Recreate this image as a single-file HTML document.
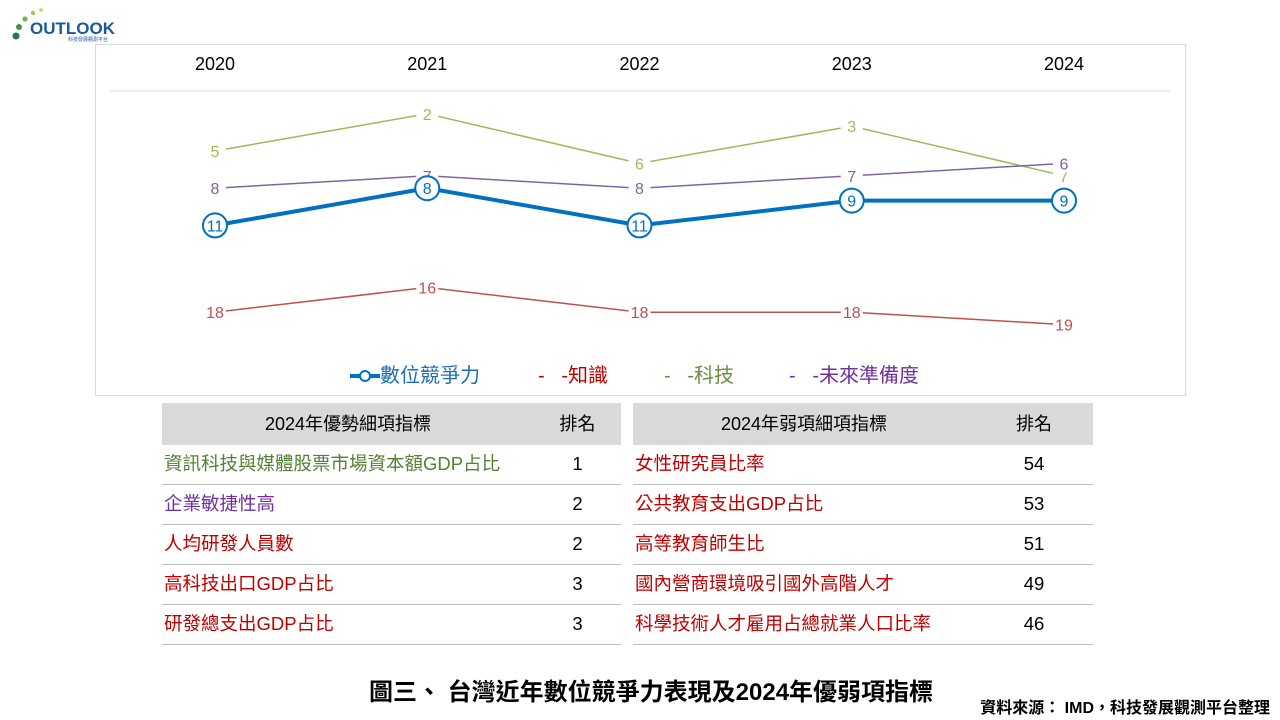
<!DOCTYPE html>
<html><head><meta charset="utf-8">
<style>
body{margin:0;width:1280px;height:720px;background:#fff;position:relative;overflow:hidden;font-family:"Liberation Sans","Noto Sans CJK TC",sans-serif;}
.abs{position:absolute;}
table{position:absolute;border-collapse:collapse;font-size:18.5px;}
td{height:39px;border-bottom:1px solid #bfbfbf;padding:0 2px;line-height:1;}
th{height:40px;background:#d9d9d9;font-weight:normal;font-size:18px;color:#000;line-height:1;}
.lg{position:absolute;top:359px;font-size:20px;white-space:nowrap;}
</style></head><body>
<div class="abs" style="left:10px;top:6px;width:110px;height:36px;">
<svg width="110" height="36"><circle cx="6" cy="30" r="3.5" fill="#1f7a4a"/><circle cx="9" cy="21" r="3" fill="#3a9a4a"/><circle cx="15" cy="13" r="2.6" fill="#6cb84a"/><circle cx="23" cy="7" r="2.2" fill="#9ccc50"/><circle cx="31" cy="4" r="1.8" fill="#b8d860"/>
<text x="20" y="28" font-size="17" font-weight="bold" fill="#1a5a9a" font-family="Liberation Sans">OUTLOOK</text>
<text x="58" y="35" font-size="5" fill="#1a5a9a">科技發展觀測平台</text></svg></div>
<div class="abs" style="left:95px;top:44px;width:1089px;height:350px;border:1px solid #d9d9d9;"></div>
<svg class="abs" style="left:0;top:0" width="1280" height="400" id="chart"></svg>
<div class="lg" style="left:350px;color:#1a6fb5"><svg width="30" height="14" style="vertical-align:-1px"><line x1="0" y1="7" x2="30" y2="7" stroke="#0070c0" stroke-width="4"/><circle cx="15" cy="7" r="5" fill="#fff" stroke="#0070c0" stroke-width="2"/></svg>數位競爭力</div>
<div class="lg" style="left:538px;color:#c00000">-&nbsp;&nbsp;&nbsp;-知識</div>
<div class="lg" style="left:664px;color:#6a8f3a">-&nbsp;&nbsp;&nbsp;-科技</div>
<div class="lg" style="left:789px;color:#7030a0">-&nbsp;&nbsp;&nbsp;-未來準備度</div>
<table style="left:162px;top:403px;width:459px;">
<tr><th style="width:370px">2024年優勢細項指標</th><th>排名</th></tr>
<tr><td style="color:#548235">資訊科技與媒體股票市場資本額GDP占比</td><td align="center">1</td></tr>
<tr><td style="color:#7030a0">企業敏捷性高</td><td align="center">2</td></tr>
<tr><td style="color:#c00000">人均研發人員數</td><td align="center">2</td></tr>
<tr><td style="color:#c00000">高科技出口GDP占比</td><td align="center">3</td></tr>
<tr><td style="color:#c00000">研發總支出GDP占比</td><td align="center">3</td></tr></table>
<table style="left:633px;top:403px;width:460px;">
<tr><th style="width:340px">2024年弱項細項指標</th><th>排名</th></tr>
<tr><td style="color:#c00000">女性研究員比率</td><td align="center">54</td></tr>
<tr><td style="color:#c00000">公共教育支出GDP占比</td><td align="center">53</td></tr>
<tr><td style="color:#c00000">高等教育師生比</td><td align="center">51</td></tr>
<tr><td style="color:#c00000">國內營商環境吸引國外高階人才</td><td align="center">49</td></tr>
<tr><td style="color:#c00000">科學技術人才雇用占總就業人口比率</td><td align="center">46</td></tr></table>
<div class="abs" style="left:369px;top:672px;font-size:24px;font-weight:bold;white-space:nowrap;">圖三、 台灣近年數位競爭力表現及2024年優弱項指標</div>
<div class="abs" style="right:10px;top:694px;font-size:16px;font-weight:bold;white-space:nowrap;">資料來源： IMD，科技發展觀測平台整理</div>
<script>
const years=['2020','2021','2022','2023','2024'];
const digital=[11,8,11,9,9];
const knowledge=[18,16,18,18,19];
const technology=[5,2,6,3,7];
const future=[8,7,8,7,6];
const NS='http://www.w3.org/2000/svg';
const svg=document.getElementById('chart');
const xs=i=>215+i*212.25;
const ys=v=>89+12.4*v;
function mk(t,a){const e=document.createElementNS(NS,t);for(const k in a)e.setAttribute(k,a[k]);svg.appendChild(e);return e;}
years.forEach((y,i)=>{const t=mk('text',{x:xs(i),y:70,'text-anchor':'middle','font-size':18,fill:'#000'});t.textContent=y;

});
const ax=mk('line',{x1:110,x2:1170,y1:91,y2:91,stroke:'#d9d9d9'});


function series(data,color,w,name,marker){
 const pts=data.map((v,i)=>xs(i)+','+ys(v)).join(' ');
 const p=mk('polyline',{points:pts,fill:'none',stroke:color,'stroke-width':w});
 
 
 data.forEach((v,i)=>{
  if(marker){const c=mk('circle',{cx:xs(i),cy:ys(v),r:12,fill:'#fff',stroke:color,'stroke-width':2});
   
   }
  else{mk('rect',{x:xs(i)-11,y:ys(v)-9,width:22,height:18,fill:'#fff'});}
  const t=mk('text',{x:xs(i),y:ys(v)+6,'text-anchor':'middle','font-size':16,fill:color});t.textContent=v;
  
  
 });
}
series(knowledge,'#c0504d',1.5,'knowledge',false);
series(technology,'#9bbb59',1.5,'technology',false);
series(future,'#8064a2',1.5,'future-readiness',false);
series(digital,'#0070c0',4,'digital-competitiveness',true);
</script>
</body></html>
